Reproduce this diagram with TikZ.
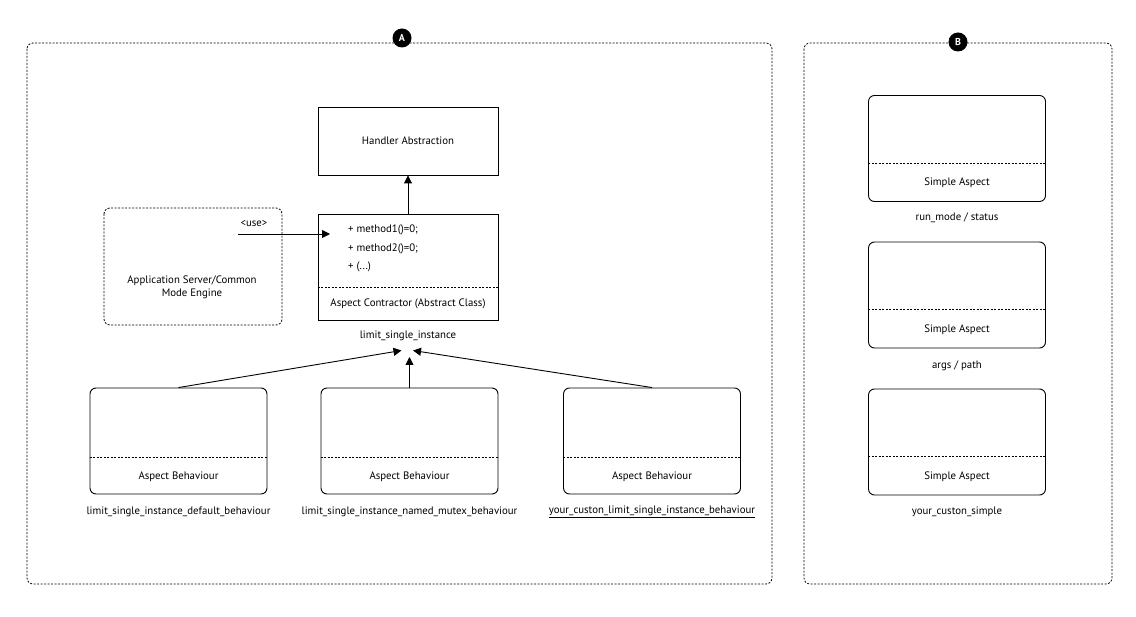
\documentclass[tikz,border=0pt]{standalone}
\usepackage{fontspec}
\setmainfont{PT Sans}
\usetikzlibrary{arrows.meta,calc}
\begin{document}
\begin{tikzpicture}[x=1pt,y=-1pt,
  every node/.style={font=\fontsize{10.8}{13}\selectfont},
  ln/.style={line width=0.9pt},
  dsh/.style={line width=0.8pt,dash pattern=on 2pt off 1.5pt},
  frame/.style={dsh,rounded corners=6pt},
  badge/.style={circle,fill=black,text=white,inner sep=0pt,minimum size=19pt,font=\fontsize{10}{11}\selectfont\bfseries},
  classbox/.style={draw,ln,minimum width=180pt,inner sep=0pt},
  aspectbox/.style={draw,ln,rounded corners=6pt,minimum width=177pt,minimum height=106pt,inner sep=0pt},
  lbl/.style={inner sep=1pt},
  tip/.style={ln,-{Triangle[length=8pt,width=8pt]}}
]
\useasboundingbox (0,0) rectangle (1136,617);

% containers
\draw[frame] (27,43) rectangle (772,584);
\draw[frame] (804,43) rectangle (1112,584);
\node[badge] (bA) at (402,38) {A};
\node[badge] (bB) at (958,42) {B};

% handler abstraction
\node[classbox,minimum height=68pt] (ha) at (408,141) {Handler Abstraction};

% aspect contractor
\node[classbox,minimum height=106pt] (ac) at (408,267) {};
\draw[dsh] ($(ac.south west)+(0,-33)$) -- ($(ac.south east)+(0,-33)$);
\node[anchor=west,lbl] (m1) at (347,230) {+ method1()=0;};
\node[anchor=west,lbl] (m2) at (347,249) {+ method2()=0;};
\node[anchor=west,lbl] (m3) at (347,267) {+ (...)};
\node[lbl] (acl) at (408,304) {Aspect Contractor (Abstract Class)};
\node[lbl] (lsi) at (408,336) {limit\_single\_instance};
\draw[tip] (ac.north) -- (ha.south);

% application server
\draw[frame] (104,208) rectangle (282,325);
\node[align=center,lbl] (app) at (192,287) {Application Server/Common\\Mode Engine};
\node[lbl] (use) at (254,224) {<use>};
\coordinate (useS) at (238,234);
\coordinate (useE) at (330,234);
\draw[tip] (useS) -- (useE);

% aspect behaviours
\node[aspectbox] (b1) at (178.5,441) {};
\node[aspectbox] (b2) at (409.5,441) {};
\node[aspectbox] (b3) at (652,441) {};
\foreach \b in {b1,b2,b3}{
  \draw[dsh] ($(\b.south west)+(0,-37)$) -- ($(\b.south east)+(0,-37)$);
  \node[lbl] at ($(\b.south)+(0,-18)$) {Aspect Behaviour};
}
\node[lbl] (l1) at (178.5,512) {limit\_single\_instance\_default\_behaviour};
\node[lbl] (l2) at (409.5,512) {limit\_single\_instance\_named\_mutex\_behaviour};
\node[lbl] (l3) at (652,512) {\underline{your\_custon\_limit\_single\_instance\_behaviour}};

\coordinate (tipL) at (401.5,350.5);
\coordinate (tipM) at (409.5,357);
\coordinate (tipR) at (413,350.5);
\draw[tip] (b1.north) -- (tipL);
\draw[tip] (b2.north) -- (tipM);
\draw[tip] (b3.north) -- (tipR);

% simple aspects
\node[aspectbox] (s1) at (957,148.5) {};
\node[aspectbox] (s2) at (957,295) {};
\node[aspectbox] (s3) at (957,442) {};
\foreach \s in {s1,s2,s3}{
  \draw[dsh] ($(\s.south west)+(0,-39)$) -- ($(\s.south east)+(0,-39)$);
  \node[lbl] at ($(\s.south)+(0,-19)$) {Simple Aspect};
}
\node[lbl] (t1) at (957,218) {run\_mode / status};
\node[lbl] (t2) at (957,366) {args / path};
\node[lbl] (t3) at (957,512) {your\_custon\_simple};
\end{tikzpicture}
\end{document}
